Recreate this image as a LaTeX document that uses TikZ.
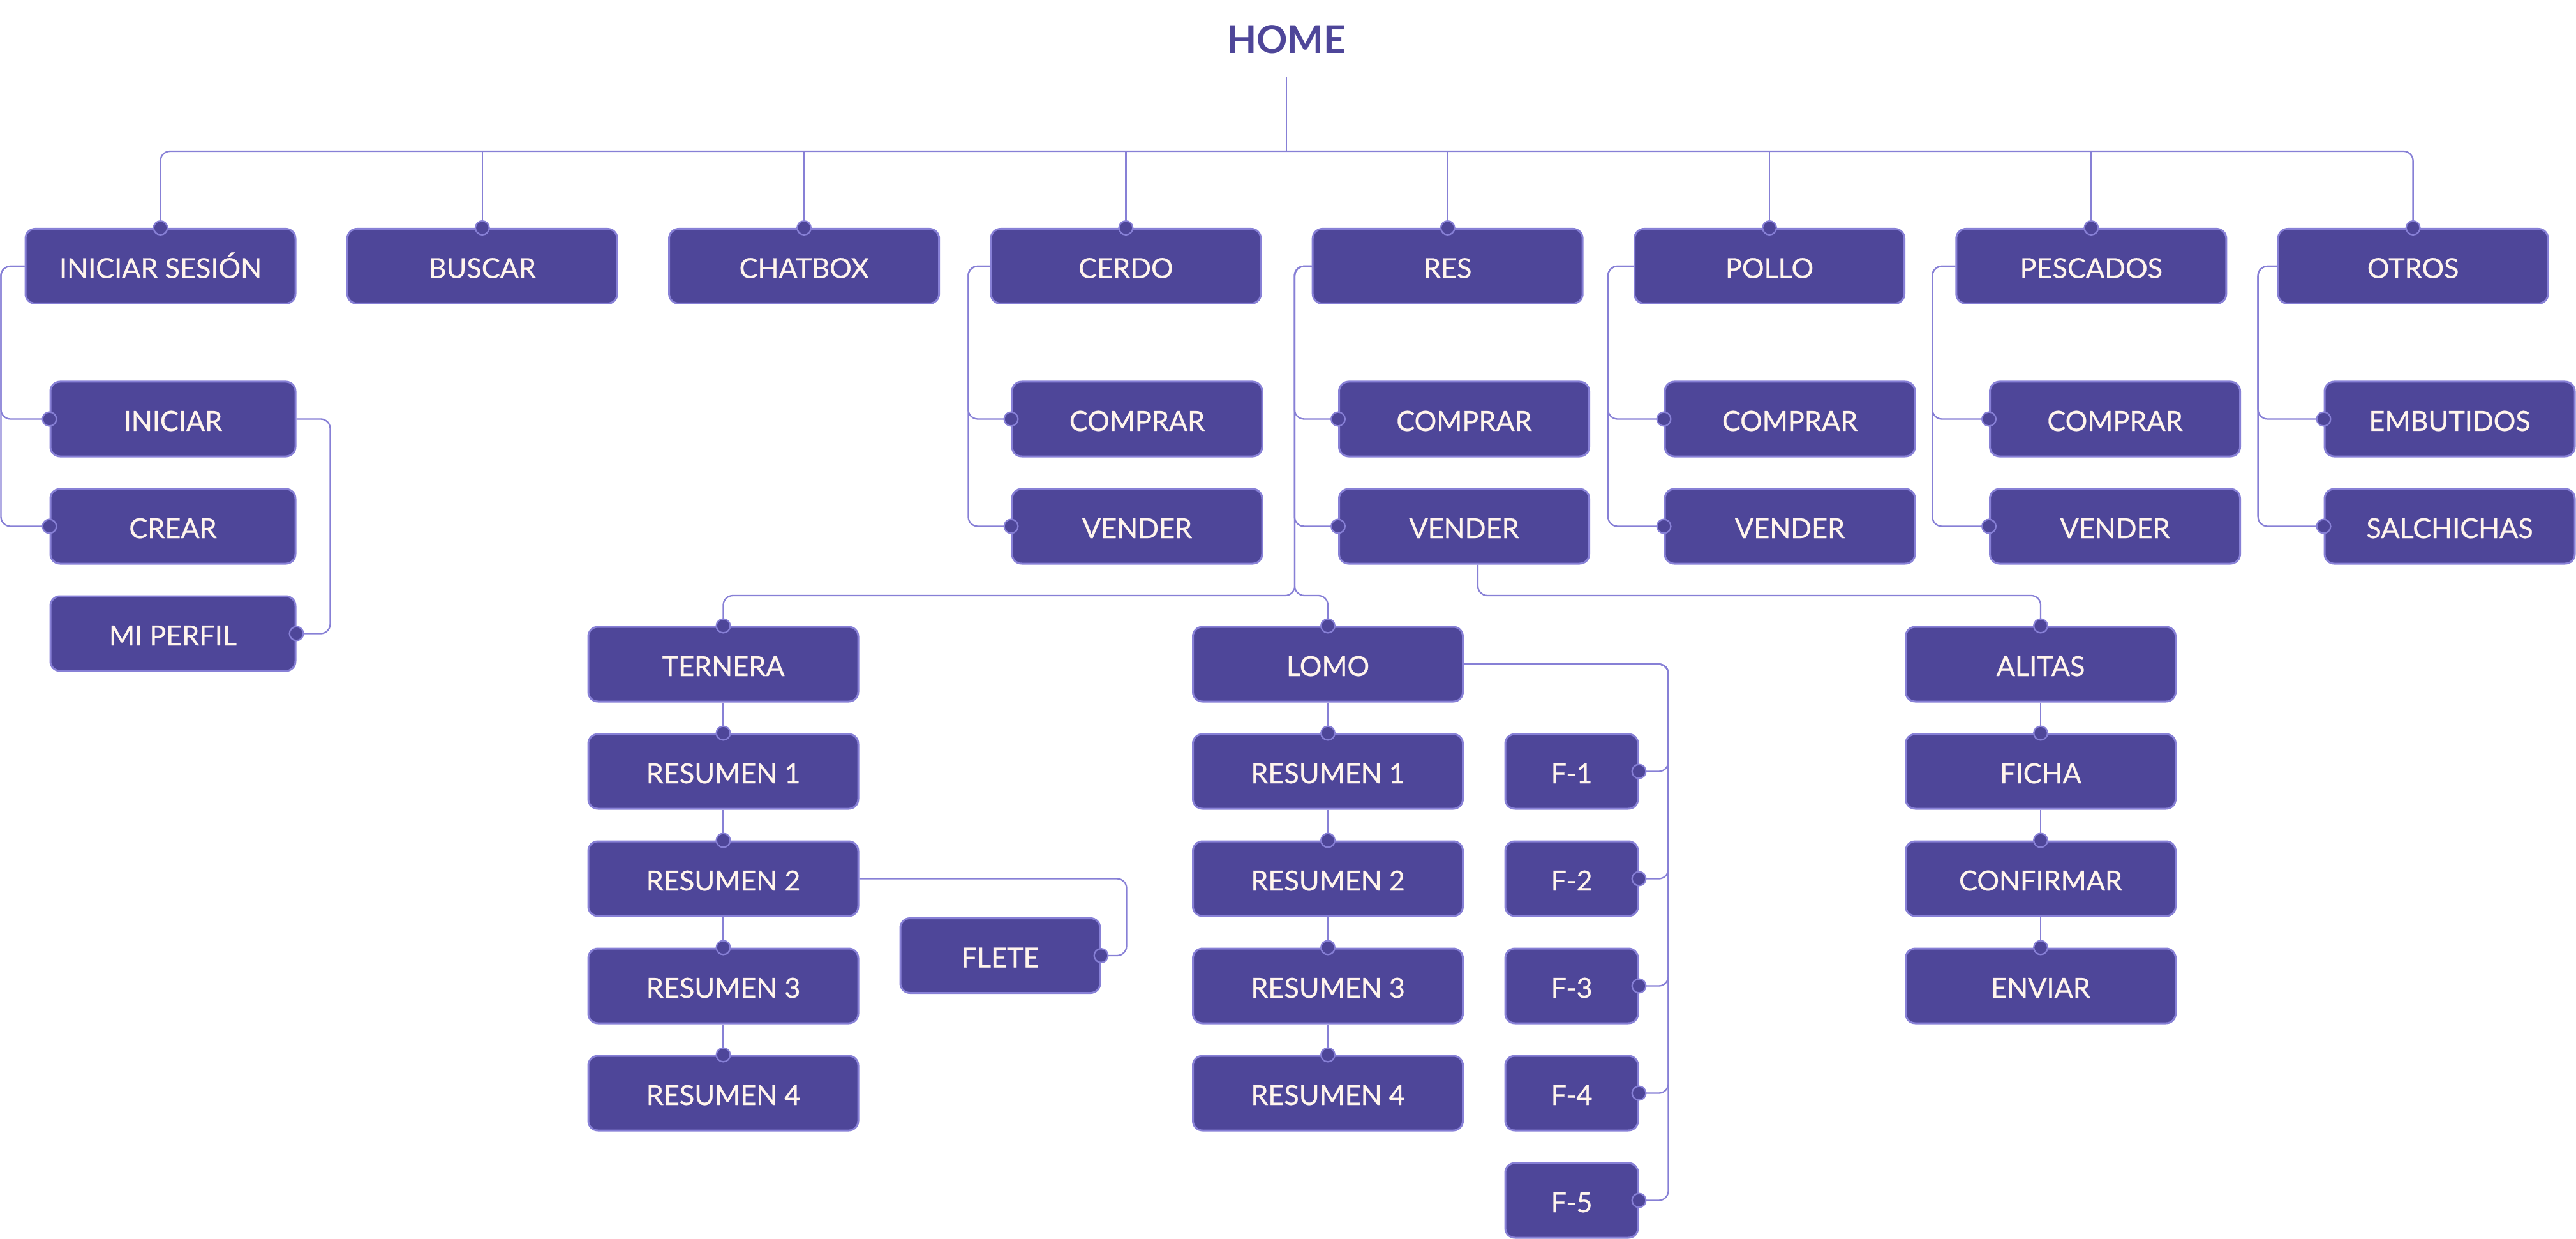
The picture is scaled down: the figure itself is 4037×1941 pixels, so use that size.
\documentclass[tikz,border=0pt]{standalone}
\usepackage{fontspec}
\setmainfont{Lato}
\newfontfamily\medfont[FakeBold=0.6]{Lato}
\usetikzlibrary{arrows.meta}
\definecolor{boxfill}{HTML}{4E4699}
\definecolor{wire}{HTML}{8780D6}
\definecolor{cream}{HTML}{FFF4EC}
\begin{document}
\begin{tikzpicture}[x=.5pt,y=-.5pt,
	box/.style={draw=wire,fill=boxfill,line width=1.5pt,rounded corners=7.5pt,minimum width=211.5pt,minimum height=58.5pt,inner sep=0pt,text=cream,text height=18.5pt,text depth=0pt,font=\medfont\fontsize{21.6}{26}\selectfont},
	sub/.style={box,minimum width=196pt},
	link/.style={draw=wire,line width=1.15pt,rounded corners=7.5pt},
	dot/.style={-{Circle[length=12pt,fill=boxfill]},shorten >=-6pt},
	dots/.style={{Circle[length=12pt,fill=boxfill]}-{Circle[length=12pt,fill=boxfill]},shorten <=-6pt,shorten >=-6pt}]
	\useasboundingbox(0,0)rectangle(4037,1941);
	\node[text=boxfill,inner sep=0pt,minimum height=57.5pt,text height=21.5pt,text depth=0pt,font=\bfseries\fontsize{30}{36}\selectfont](home)at(2016,62.5){HOME};
	\foreach\n/\t[count=\i from 0]in{sesion/INICIAR SESIÓN,buscar/BUSCAR,chatbox/CHATBOX,cerdo/CERDO,res/RES,pollo/POLLO,pescados/PESCADOS,otros/OTROS}
	\node[box](\n)at(251.5+504.3*\i,417){\t};
	\node[sub,minimum width=192pt](iniciar)at(271,656.5){INICIAR};
	\node[sub,minimum width=192pt](crear)at(271,824.5){CREAR};
	\node[sub,minimum width=192pt](perfil)at(271,992.5){MI PERFIL};
	\foreach\p/\x in{cerdo/1782,res/2294.5,pollo/2805,pescados/3314.5}{%
	\node[sub](\p-c)at(\x,656.5){COMPRAR};%
	\node[sub](\p-v)at(\x,824.5){VENDER};}
	\node[sub](embutidos)at(3839,656.5){EMBUTIDOS};
	\node[sub](salchichas)at(3839,824.5){SALCHICHAS};
	\foreach\n/\t[count=\i from 0]in{ternera/TERNERA,t1/RESUMEN 1,t2/RESUMEN 2,t3/RESUMEN 3,t4/RESUMEN 4}
	\node[box](\n)at(1133.5,1040.5+168*\i){\t};
	\foreach\n/\t[count=\i from 0]in{lomo/LOMO,l1/RESUMEN 1,l2/RESUMEN 2,l3/RESUMEN 3,l4/RESUMEN 4}
	\node[box](\n)at(2081,1040.5+168*\i){\t};
	\foreach\n/\t[count=\i from 0]in{alitas/ALITAS,ficha/FICHA,confirmar/CONFIRMAR,enviar/ENVIAR}
	\node[box](\n)at(3198,1040.5+168*\i){\t};
	\foreach\i in{1,...,5}\node[box,minimum width=104pt](f\i)at(2463,1040.5+168*\i){F-\i};
	\node[box,minimum width=156.5pt](flete)at(1567.5,1497){FLETE};
	\coordinate(hub)at(2016,237);
	\coordinate(split)at(2029,933);
	\draw[link](home)--(hub);
	\draw[link,dots](sesion.north)|-(hub)-|(otros.north);
	\foreach\n in{buscar,chatbox,cerdo,res,pollo,pescados}\draw[link,dot](\n.north|-hub)--(\n.north);
	\foreach\p/\c/\d in{sesion/iniciar/37,sesion/crear/37,cerdo/cerdo-c/34,cerdo/cerdo-v/34,res/res-c/27,res/res-v/27,pollo/pollo-c/40,pollo/pollo-v/40,pescados/pescados-c/36,pescados/pescados-v/36,otros/embutidos/30,otros/salchichas/30}
	\draw[link,dot](\p.west)--++(-\d,0)|-(\c.west);
	\draw[link,dot](iniciar.east)--++(53,0)|-(perfil.east);
	\draw[link,dot](res.west)-|(split)-|(ternera.north);
	\draw[link,dot](res.west)-|(split)-|(lomo.north);
	\draw[link,dot]([xshift=10.75pt]res-v.south)|-(alitas.north|-split)--(alitas.north);
	\foreach\a/\b in{ternera/t1,t1/t2,t2/t3,t3/t4,lomo/l1,l1/l2,l2/l3,l3/l4,alitas/ficha,ficha/confirmar,confirmar/enviar}\draw[link,dot](\a)--(\b);
	\draw[link,dot](t2.east)-|([xshift=20pt]flete.east)--(flete.east);
	\foreach\i in{1,...,5}\draw[link,dot](lomo.east)-|([xshift=23pt]f\i.east)--(f\i.east);
\end{tikzpicture}
\end{document}
